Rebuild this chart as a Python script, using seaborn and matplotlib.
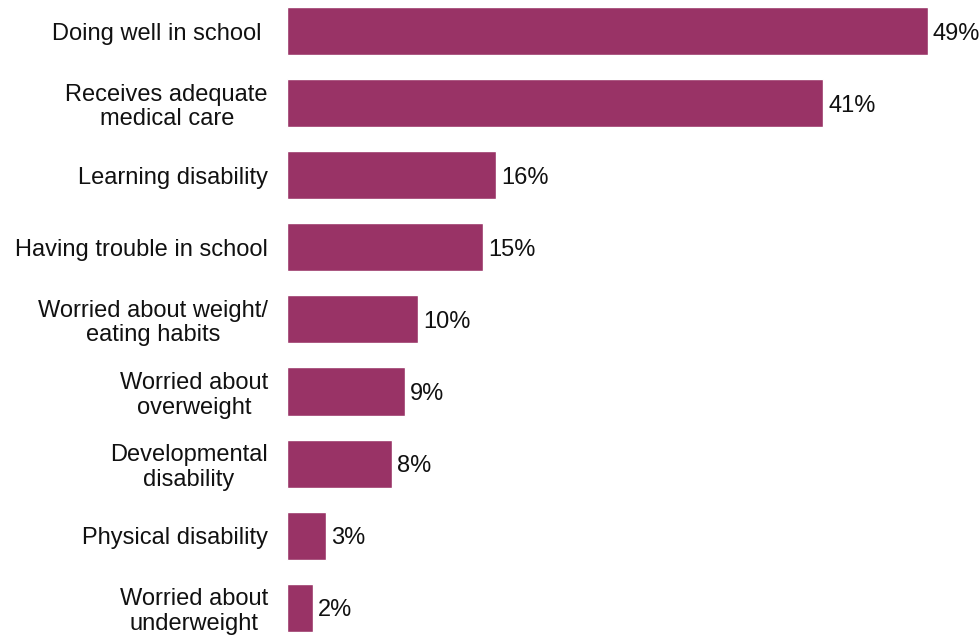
import matplotlib
matplotlib.use("Agg")
import matplotlib.pyplot as plt
import seaborn as sns
import pandas as pd

categories = [
    "Doing well in school ",
    "Receives adequate\nmedical care",
    "Learning disability",
    "Having trouble in school",
    "Worried about weight/\neating habits",
    "Worried about\noverweight",
    "Developmental\ndisability",
    "Physical disability",
    "Worried about\nunderweight",
]
values = [49, 41, 16, 15, 10, 9, 8, 3, 2]
value_labels = ["49%", "41%", "16%", "15%", "10%", "9%", "8%", "3%", "2%"]

bar_color = "#993366"

sns.set_theme(style="white")
plt.rcParams["font.family"] = ["Liberation Sans", "DejaVu Sans"]

W, H = 980, 635
FS = 17
fig = plt.figure(figsize=(W / 100, H / 100), dpi=100)
# axes placed in pixel terms: plot starts at x=287, 49% reaches x=928
ax = fig.add_axes([287 / W, 0, (928 - 287) / W, 1])

df = pd.DataFrame({"category": categories, "value": values})
sns.barplot(data=df, x="value", y="category", color=bar_color,
            saturation=1, width=0.667, ax=ax, orient="h")

ax.set_xlim(0, 49)
step = 72.1
ax.set_ylim(H / step - 0.43, -0.43)

for i, (v, lab) in enumerate(zip(values, value_labels)):
    ax.text(v + 0.38, i, lab, va="center_baseline", ha="left", fontsize=FS,
            color="#111111", clip_on=False)

ax.set_xlabel("")
ax.set_ylabel("")
ax.set_xticks([])
ax.tick_params(axis="y", length=0, pad=13.7, labelsize=FS, labelcolor="#111111")
for lbl in ax.get_yticklabels():
    lbl.set_multialignment("center")
    lbl.set_linespacing(1.15)
for s in ax.spines.values():
    s.set_visible(False)

fig.savefig("out.png", dpi=100)
